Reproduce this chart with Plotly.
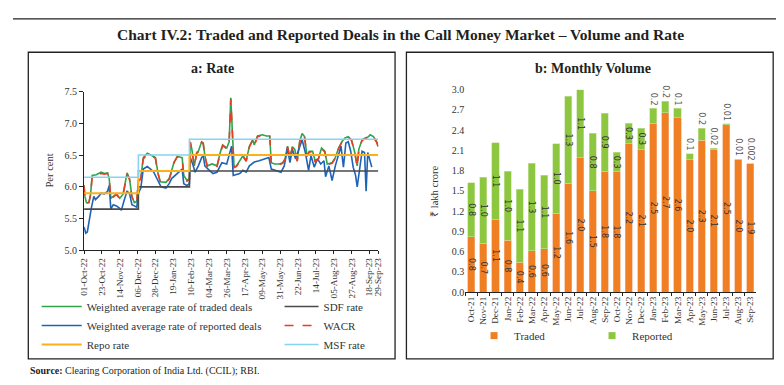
import plotly.graph_objects as go

# ---------------- Panel a: Rate (per cent) ----------------
traded_dates = ["2022-10-01","2022-10-02","2022-10-04","2022-10-07","2022-10-09","2022-10-11","2022-10-16","2022-10-22",
                "2022-10-26","2022-10-30","2022-11-01","2022-11-03","2022-11-06","2022-11-10","2022-11-14","2022-11-18",
                "2022-11-21","2022-11-23","2022-11-26","2022-11-29","2022-12-02","2022-12-05","2022-12-07","2022-12-10",
                "2022-12-13","2022-12-18","2022-12-24","2022-12-28","2022-12-31","2023-01-03","2023-01-10","2023-01-14",
                "2023-01-16","2023-01-20","2023-01-24","2023-01-30","2023-02-01","2023-02-05","2023-02-08","2023-02-09",
                "2023-02-11","2023-02-14","2023-02-17","2023-02-19","2023-02-23","2023-02-25","2023-02-27","2023-03-02",
                "2023-03-08","2023-03-14","2023-03-18","2023-03-21","2023-03-26","2023-03-29","2023-03-31","2023-04-02",
                "2023-04-04","2023-04-07","2023-04-11","2023-04-15","2023-04-19","2023-04-23","2023-04-27","2023-04-29",
                "2023-05-03","2023-05-09","2023-05-14","2023-05-18","2023-05-20","2023-05-24","2023-05-30","2023-06-03",
                "2023-06-06","2023-06-09","2023-06-12","2023-06-15","2023-06-18","2023-06-21","2023-06-24","2023-06-27",
                "2023-06-30","2023-07-03","2023-07-06","2023-07-10","2023-07-13","2023-07-17","2023-07-21","2023-07-25",
                "2023-07-28","2023-08-03","2023-08-07","2023-08-11","2023-08-15","2023-08-19","2023-08-23","2023-08-27",
                "2023-08-31","2023-09-03","2023-09-05","2023-09-09","2023-09-13","2023-09-17","2023-09-19","2023-09-23",
                "2023-09-27","2023-09-29"]
traded_rate = [6.03,5.85,5.75,5.75,5.88,6.18,6.19,6.23,6.21,6.22,6.13,5.82,5.85,5.89,5.82,5.88,
               6.08,6.22,6.13,5.85,5.75,5.77,6.10,6.13,6.46,6.53,6.49,6.46,6.23,6.08,6.07,6.13,
               6.21,6.39,6.48,6.46,6.18,6.10,6.13,6.71,6.59,6.33,6.54,6.56,6.71,6.69,6.49,6.33,
               6.36,6.33,6.54,6.66,6.61,6.71,7.40,6.74,6.31,6.33,6.41,6.49,6.41,6.64,6.74,6.66,
               6.80,6.82,6.80,6.80,6.38,6.36,6.36,6.38,6.44,6.64,6.46,6.63,6.59,6.41,6.71,6.84,
               6.79,6.49,6.56,6.56,6.41,6.44,6.61,6.56,6.36,6.38,6.46,6.61,6.71,6.77,6.79,6.74,
               6.54,6.33,6.59,6.74,6.77,6.79,6.82,6.79,6.71,6.64]
wacr_rate = [6.01,5.83,5.74,5.76,5.87,6.16,6.18,6.21,6.20,6.21,6.12,5.81,5.84,5.88,5.81,5.87,
             6.06,6.20,6.12,5.84,5.75,5.76,6.09,6.12,6.44,6.51,6.48,6.45,6.22,6.07,6.06,6.12,
             6.20,6.38,6.47,6.45,6.17,6.09,6.12,6.70,6.58,6.32,6.53,6.55,6.70,6.68,6.48,6.32,
             6.35,6.32,6.53,6.65,6.60,6.70,7.38,6.73,6.30,6.32,6.40,6.48,6.40,6.63,6.73,6.65,
             6.79,6.81,6.79,6.79,6.37,6.35,6.35,6.37,6.43,6.63,6.45,6.62,6.58,6.40,6.70,6.83,
             6.78,6.48,6.55,6.55,6.40,6.43,6.60,6.55,6.35,6.37,6.45,6.60,6.70,6.76,6.78,6.73,
             6.53,6.32,6.58,6.73,6.76,6.78,6.81,6.78,6.70,6.62]
reported_dates = ["2022-10-01","2022-10-03","2022-10-05","2022-10-07","2022-10-10","2022-10-13","2022-10-15","2022-10-19",
                  "2022-10-22","2022-10-26","2022-10-30","2022-11-01","2022-11-03","2022-11-06","2022-11-10","2022-11-14",
                  "2022-11-16","2022-11-19","2022-11-23","2022-11-26","2022-11-29","2022-12-02","2022-12-05","2022-12-07",
                  "2022-12-10","2022-12-13","2022-12-18","2022-12-22","2022-12-26","2022-12-31","2023-01-04","2023-01-10",
                  "2023-01-14","2023-01-17","2023-01-21","2023-01-26","2023-01-30","2023-02-01","2023-02-05","2023-02-08",
                  "2023-02-09","2023-02-12","2023-02-15","2023-02-19","2023-02-23","2023-02-25","2023-02-27","2023-03-03",
                  "2023-03-09","2023-03-14","2023-03-20","2023-03-26","2023-03-30","2023-04-01","2023-04-03","2023-04-07",
                  "2023-04-11","2023-04-15","2023-04-19","2023-04-23","2023-04-29","2023-05-05","2023-05-11","2023-05-17",
                  "2023-05-20","2023-05-26","2023-06-01","2023-06-05","2023-06-09","2023-06-12","2023-06-15","2023-06-19",
                  "2023-06-23","2023-06-27","2023-07-01","2023-07-05","2023-07-08","2023-07-12","2023-07-16","2023-07-20",
                  "2023-07-24","2023-07-26","2023-07-30","2023-08-03","2023-08-07","2023-08-11","2023-08-14","2023-08-17",
                  "2023-08-20","2023-08-23","2023-08-26","2023-08-29","2023-09-01","2023-09-03","2023-09-06","2023-09-09",
                  "2023-09-12","2023-09-14","2023-09-16","2023-09-18","2023-09-21"]
reported_rate = [5.37,5.27,5.29,5.47,5.67,5.85,5.80,5.85,5.90,5.89,5.93,6.02,5.65,5.72,5.70,5.66,
                 5.63,5.77,5.93,5.90,5.72,5.70,5.68,5.90,5.98,6.28,6.32,6.28,6.23,6.10,6.00,5.98,
                 6.05,6.13,6.18,6.23,6.28,6.05,6.02,6.05,6.46,6.36,6.23,6.33,6.46,6.49,6.33,6.28,
                 6.21,6.23,6.38,6.36,6.56,6.64,6.18,6.19,6.21,6.26,6.23,6.33,6.39,6.41,6.44,6.46,
                 6.28,6.26,6.23,6.33,6.61,6.38,6.59,6.44,6.59,6.74,6.54,6.26,6.49,6.31,6.44,6.36,
                 6.41,6.16,6.33,6.10,6.33,6.49,6.64,6.31,6.69,6.71,6.56,6.31,6.18,6.00,6.28,6.56,
                 6.54,5.93,6.54,6.46,6.31]
policy_dates = ["2022-10-01", "2022-12-07", "2023-02-08", "2023-09-29"]
sdf_rate = [5.65, 6.00, 6.25, 6.25]
repo_rate = [5.90, 6.25, 6.50, 6.50]
msf_rate = [6.15, 6.50, 6.75, 6.75]
rate_tick_dates = ["2022-10-01","2022-10-23","2022-11-14","2022-12-06","2022-12-28","2023-01-19","2023-02-10",
                   "2023-03-04","2023-03-26","2023-04-17","2023-05-09","2023-05-31","2023-06-22","2023-07-14",
                   "2023-08-05","2023-08-27","2023-09-18","2023-09-29"]
rate_tick_text = ["01-Oct-22","23-Oct-22","14-Nov-22","06-Dec-22","28-Dec-22","19-Jan-23","10-Feb-23",
                  "04-Mar-23","26-Mar-23","17-Apr-23","09-May-23","31-May-23","22-Jun-23","14-Jul-23",
                  "05-Aug-23","27-Aug-23","18-Sep-23","29-Sep-23"]
rate_y_ticks = [5.0, 5.5, 6.0, 6.5, 7.0, 7.5]

# ---------------- Panel b: Monthly Volume (lakh crore) ----------------
months = ["Oct-21","Nov-21","Dec-21","Jan-22","Feb-22","Mar-22","Apr-22","May-22","Jun-22","Jul-22","Aug-22","Sep-22",
          "Oct-22","Nov-22","Dec-22","Jan-23","Feb-23","Mar-23","Apr-23","May-23","Jun-23","Jul-23","Aug-23","Sep-23"]
traded_vol = [0.82,0.72,1.08,0.77,0.44,0.61,0.64,1.17,1.61,1.99,1.50,1.79,
              1.78,2.20,2.11,2.49,2.66,2.58,1.96,2.25,2.11,2.48,1.96,1.90]
reported_vol = [0.80,0.98,1.13,1.02,1.08,1.30,1.09,1.03,1.29,1.01,0.85,0.86,
                0.29,0.30,0.32,0.23,0.17,0.14,0.09,0.18,0.02,0.01,0.01,0.002]
traded_labels = ["0.8","0.7","1.1","0.8","0.4","0.6","0.6","1.2","1.6","2.0","1.5","1.8",
                 "1.8","2.2","2.1","2.5","2.7","2.6","2.0","2.3","2.1","2.5","2.0","1.9"]
reported_labels = ["0.8","1.0","1.1","1.0","1.1","1.3","1.1","1.0","1.3","1.1","0.8","0.9",
                   "0.3","0.3","0.3","0.2","0.2","0.1","0.1","0.2","0.02","0.01","0.01","0.002"]
vol_y_ticks = [0.0,0.3,0.6,0.9,1.2,1.5,1.8,2.1,2.4,2.7,3.0]

# ---------------- styling ----------------
W, H = 784, 385
SERIF = "Liberation Serif"
SANS = "DejaVu Sans"
GREEN = "#2ea44f"
BLUE = "#1f63b5"
RED = "#ee3b24"
SDF_C = "#4a4a4a"
REPO_C = "#fbb01c"
MSF_C = "#86d3f2"
ORANGE = "#ef7f22"
LGREEN = "#8dc63f"
TXT = "#333333"

def px_x(p):
    return p / W

def px_y(p):
    return 1 - p / H

fig = go.Figure()

# Panel a traces (draw order)
fig.add_trace(go.Scatter(x=traded_dates, y=traded_rate, mode="lines", name="Weighted average rate of traded deals",
                         line=dict(color=GREEN, width=1.6), legend="legend", legendrank=1, xaxis="x", yaxis="y"))
fig.add_trace(go.Scatter(x=reported_dates, y=reported_rate, mode="lines", name="Weighted average rate of reported deals",
                         line=dict(color=BLUE, width=1.6), legend="legend", legendrank=2, xaxis="x", yaxis="y"))
fig.add_trace(go.Scatter(x=traded_dates, y=wacr_rate, mode="lines", name="WACR",
                         line=dict(color=RED, width=1.6, dash="dash"), legend="legend3", legendrank=2, xaxis="x", yaxis="y"))
fig.add_trace(go.Scatter(x=policy_dates, y=sdf_rate, mode="lines", name="SDF rate", line_shape="hv",
                         line=dict(color=SDF_C, width=1.6), legend="legend3", legendrank=1, xaxis="x", yaxis="y"))
fig.add_trace(go.Scatter(x=policy_dates, y=repo_rate, mode="lines", name="Repo rate", line_shape="hv",
                         line=dict(color=REPO_C, width=2), legend="legend", legendrank=3, xaxis="x", yaxis="y"))
fig.add_trace(go.Scatter(x=policy_dates, y=msf_rate, mode="lines", name="MSF rate", line_shape="hv",
                         line=dict(color=MSF_C, width=1.6), legend="legend3", legendrank=3, xaxis="x", yaxis="y"))

# Panel b bars
n_small = 15
rep_pos = ["inside"] * n_small + ["outside"] * (len(months) - n_small)
rep_col = [TXT] * n_small + ["#555555"] * (len(months) - n_small)
fig.add_trace(go.Bar(x=months, y=traded_vol, name="Traded", marker=dict(color=ORANGE, line=dict(color="#f6b08a", width=0.6)),
                     text=traded_labels, textposition="inside", insidetextanchor="middle", textangle=90,
                     textfont=dict(family=SANS, size=8, color=TXT), showlegend=False, hoverinfo="y",
                     xaxis="x2", yaxis="y2", cliponaxis=False))
fig.add_trace(go.Bar(x=months, y=reported_vol, name="Reported", marker=dict(color=LGREEN, line=dict(color="#c9e3a3", width=0.6)),
                     text=reported_labels, textposition=rep_pos, insidetextanchor="middle", textangle=90,
                     textfont=dict(family=SANS, size=8, color=rep_col), showlegend=False, hoverinfo="y",
                     xaxis="x2", yaxis="y2", cliponaxis=False))
# legend entries for panel b
fig.add_trace(go.Scatter(x=[None], y=[None], mode="markers", name="Traded",
                         marker=dict(symbol="square", size=7, color=ORANGE), legend="legend2", xaxis="x2", yaxis="y2"))
fig.add_trace(go.Scatter(x=[None], y=[None], mode="markers", name="Reported",
                         marker=dict(symbol="square", size=7, color=LGREEN), legend="legend2", xaxis="x2", yaxis="y2"))

axis_font = dict(family=SERIF, size=10, color=TXT)
xtick_font = dict(family=SERIF, size=9.2, color=TXT)

fig.update_layout(
    width=W, height=H,
    margin=dict(l=0, r=0, t=0, b=0),
    paper_bgcolor="white", plot_bgcolor="white",
    barmode="stack", bargap=0.42,
    uniformtext=dict(mode="show", minsize=8),
    showlegend=True,
    xaxis=dict(domain=[px_x(72), px_x(370)], type="date", range=["2022-10-01", "2023-09-29"],
               tickvals=rate_tick_dates, ticktext=rate_tick_text, tickangle=-90, tickfont=xtick_font,
               showline=True, linecolor="#222", linewidth=1, ticks="outside", ticklen=3, tickcolor="#222",
               showgrid=False, zeroline=False, anchor="y"),
    yaxis=dict(domain=[px_y(244), px_y(80)], range=[5.0, 7.5], tickvals=rate_y_ticks, tickformat=".1f",
               tickfont=axis_font, showline=True, linecolor="#222", linewidth=1, ticks="outside", ticklen=4,
               tickcolor="#222", showgrid=False, zeroline=False, anchor="x"),
    xaxis2=dict(domain=[px_x(458), px_x(753)], type="category", categoryorder="array", categoryarray=months,
                tickangle=-90, tickfont=xtick_font, tickson="boundaries", showline=True, linecolor="#222",
                linewidth=1, ticks="outside", ticklen=3, tickcolor="#222", showgrid=False, zeroline=False,
                anchor="y2", range=[-0.5, len(months) - 0.5]),
    yaxis2=dict(domain=[px_y(287), px_y(78)], range=[0, 3.0], tickvals=vol_y_ticks, tickformat=".1f",
                tickfont=axis_font, showline=False, ticks="", showgrid=False, zeroline=False, anchor="x2"),
    legend=dict(x=px_x(24), y=px_y(287), xanchor="left", yanchor="top", orientation="v", traceorder="normal",
                font=dict(family=SERIF, size=11, color=TXT), itemwidth=40, bgcolor="rgba(0,0,0,0)",
                tracegroupgap=0),
    legend3=dict(x=px_x(270), y=px_y(287), xanchor="left", yanchor="top", orientation="v", traceorder="normal",
                 font=dict(family=SERIF, size=11, color=TXT), itemwidth=34, bgcolor="rgba(0,0,0,0)",
                 tracegroupgap=0),
    legend2=dict(x=px_x(467), y=px_y(317), xanchor="left", yanchor="top", orientation="h", traceorder="normal",
                 font=dict(family=SERIF, size=11, color=TXT), itemwidth=30, entrywidth=73,
                 bgcolor="rgba(0,0,0,0)"),
)

shapes = [
    dict(type="line", xref="paper", yref="paper", x0=0, x1=1, y0=px_y(5), y1=px_y(5), line=dict(color="#222", width=1.2)),
    dict(type="rect", xref="paper", yref="paper", x0=px_x(15.5), x1=px_x(387), y0=px_y(356), y1=px_y(39.5),
         line=dict(color="#222", width=1.3)),
    dict(type="rect", xref="paper", yref="paper", x0=px_x(398.5), x1=px_x(770), y0=px_y(356), y1=px_y(39.5),
         line=dict(color="#222", width=1.3)),
]
fig.update_layout(shapes=shapes)

annotations = [
    dict(text="<b>Chart IV.2: Traded and Reported Deals in the Call Money Market – Volume and Rate</b>",
         x=0.5, y=px_y(21), xref="paper", yref="paper", showarrow=False, xanchor="center", yanchor="middle",
         font=dict(family=SERIF, size=15.5, color="#231f20")),
    dict(text="<b>a: Rate</b>", x=px_x(202), y=px_y(56), xref="paper", yref="paper", showarrow=False,
         xanchor="center", yanchor="middle", font=dict(family=SERIF, size=14, color="#231f20")),
    dict(text="<b>b: Monthly Volume</b>", x=px_x(587), y=px_y(56), xref="paper", yref="paper", showarrow=False,
         xanchor="center", yanchor="middle", font=dict(family=SERIF, size=14, color="#231f20")),
    dict(text="Per cent", x=px_x(37), y=px_y(162), xref="paper", yref="paper", showarrow=False, textangle=-90,
         xanchor="center", yanchor="middle", font=dict(family=SERIF, size=10.5, color=TXT)),
    dict(text="₹ lakh crore", x=px_x(427), y=px_y(183), xref="paper", yref="paper", showarrow=False, textangle=-90,
         xanchor="center", yanchor="middle", font=dict(family=SERIF, size=10.5, color=TXT)),
    dict(text="<b>Source:</b> Clearing Corporation of India Ltd. (CCIL); RBI.", x=px_x(15), y=px_y(368),
         xref="paper", yref="paper", showarrow=False, xanchor="left", yanchor="middle",
         font=dict(family=SERIF, size=10, color="#231f20")),
]
fig.update_layout(annotations=annotations)

fig.write_html("out.html")
